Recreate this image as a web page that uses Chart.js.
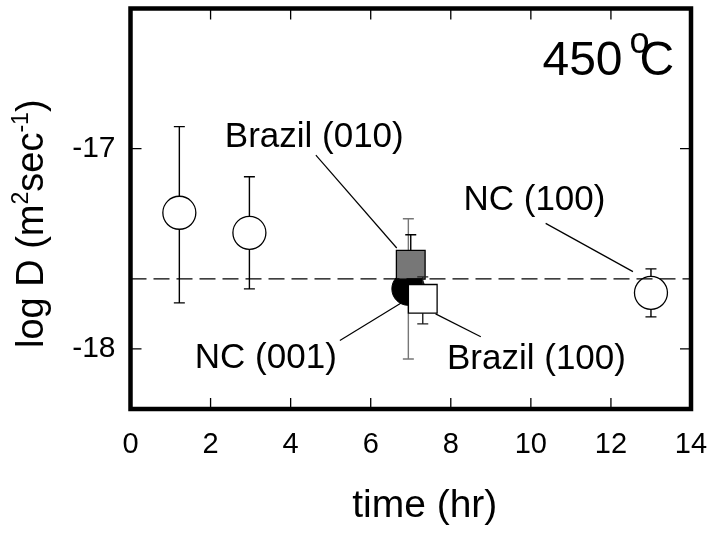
<!DOCTYPE html>
<html>
<head>
<meta charset="utf-8">
<script src="https://cdn.jsdelivr.net/npm/chart.js@4.4.1/dist/chart.umd.min.js"></script>
<style>
    html, body { margin: 0; padding: 0; background: #fff; }
</style>
</head>
<body>
<canvas id="myChart" width="712" height="533"></canvas>
<script>
// open circles (the one at 13 hr is NC (100))
var openX = [1.22, 2.97, 13.0];
var openY = [-17.32, -17.42, -17.72];
var openLo = [-17.77, -17.70, -17.84];
var openHi = [-16.89, -17.14, -17.60];

// NC (001) - black circle
var nc001X = [6.94];
var nc001Y = [-17.70];
var nc001Lo = [-18.05];
var nc001Hi = [-17.35];

// Brazil (010) - grey square
var br010X = [7.00];
var br010Y = [-17.58];
var br010Lo = [-17.73];
var br010Hi = [-17.43];

// Brazil (100) - white square
var br100X = [7.30];
var br100Y = [-17.75];
var br100Lo = [-17.875];
var br100Hi = [-17.64];

var xTicks = [0, 2, 4, 6, 8, 10, 12, 14];
var yTicks = [-18, -17];
var meanLogD = -17.65;

var FONT = "'Liberation Sans', Arial, Helvetica, sans-serif";

// labels and leader lines, in data units
var notes = [
    { text: 'Brazil (010)', x: 4.59, y: -16.99, line: [4.63, -17.032, 6.65, -17.496] },
    { text: 'NC (100)', x: 10.09, y: -17.304, line: [10.37, -17.373, 12.55, -17.614] },
    { text: 'NC (001)', x: 3.38, y: -18.095, line: [5.23, -17.958, 6.76, -17.771] },
    { text: 'Brazil (100)', x: 10.14, y: -18.102, line: [7.62, -17.825, 8.75, -17.939] }
];

function toPoints(xs, ys) {
    return xs.map(function (x, i) { return { x: x, y: ys[i] }; });
}

var decor = {
    id: 'decor',
    beforeDatasetDraw: function (chart, args) {
        var ds = chart.data.datasets[args.index];
        var ctx = chart.ctx;
        var sx = chart.scales.x, sy = chart.scales.y;
        ctx.save();
        ctx.strokeStyle = ds.errColor;
        ctx.lineWidth = 1.4;
        ds.data.forEach(function (p, i) {
            var px = sx.getPixelForValue(p.x);
            var lo = sy.getPixelForValue(ds.errLo[i]);
            var hi = sy.getPixelForValue(ds.errHi[i]);
            ctx.beginPath();
            ctx.moveTo(px, lo); ctx.lineTo(px, hi);
            ctx.moveTo(px - 5.5, lo); ctx.lineTo(px + 5.5, lo);
            ctx.moveTo(px - 5.5, hi); ctx.lineTo(px + 5.5, hi);
            ctx.stroke();
        });
        ctx.restore();
    },
    afterDatasetsDraw: function (chart) {
        var ctx = chart.ctx;
        var ca = chart.chartArea;
        var sx = chart.scales.x, sy = chart.scales.y;
        ctx.save();

        // mean line
        var my = sy.getPixelForValue(meanLogD);
        ctx.strokeStyle = '#000';
        ctx.lineWidth = 1.4;
        ctx.setLineDash([16, 7]);
        ctx.beginPath();
        ctx.moveTo(ca.left, my); ctx.lineTo(ca.right, my);
        ctx.stroke();
        ctx.setLineDash([]);

        // inward ticks on all sides
        ctx.lineWidth = 1.3;
        ctx.beginPath();
        sx.ticks.forEach(function (t) {
            var px = sx.getPixelForValue(t.value);
            if (px <= ca.left + 2 || px >= ca.right - 2) return;
            ctx.moveTo(px, ca.bottom); ctx.lineTo(px, ca.bottom - 11);
            ctx.moveTo(px, ca.top); ctx.lineTo(px, ca.top + 11);
        });
        sy.ticks.forEach(function (t) {
            var py = sy.getPixelForValue(t.value);
            ctx.moveTo(ca.left, py); ctx.lineTo(ca.left + 11, py);
            ctx.moveTo(ca.right, py); ctx.lineTo(ca.right - 11, py);
        });
        ctx.stroke();

        // frame
        ctx.lineWidth = 4.5;
        ctx.lineJoin = 'miter';
        ctx.strokeRect(ca.left, ca.top, ca.right - ca.left, ca.bottom - ca.top);

        // leader lines and labels
        ctx.lineWidth = 1.2;
        ctx.fillStyle = '#000';
        ctx.font = '35px ' + FONT;
        ctx.textAlign = 'center';
        ctx.textBaseline = 'alphabetic';
        notes.forEach(function (n) {
            ctx.beginPath();
            ctx.moveTo(sx.getPixelForValue(n.line[0]), sy.getPixelForValue(n.line[1]));
            ctx.lineTo(sx.getPixelForValue(n.line[2]), sy.getPixelForValue(n.line[3]));
            ctx.stroke();
            ctx.fillText(n.text, sx.getPixelForValue(n.x), sy.getPixelForValue(n.y));
        });

        // temperature
        ctx.textAlign = 'left';
        var tx = sx.getPixelForValue(10.29), ty = sy.getPixelForValue(-16.633);
        ctx.font = '48px ' + FONT;
        ctx.fillText('450', tx, ty);
        var w = ctx.measureText('450').width;
        ctx.font = '36px ' + FONT;
        ctx.fillText('o', tx + w + 7, ty - 22.5);
        ctx.font = '48px ' + FONT;
        ctx.fillText('C', tx + w + 17, ty);

        // x title
        ctx.textAlign = 'center';
        ctx.font = '39px ' + FONT;
        ctx.fillText('time (hr)', (ca.left + ca.right) / 2 + 14, ca.bottom + 108);

        // y title with superscripts
        var parts = [
            ['log D (m', 38, 0], ['2', 23, -15], ['sec', 38, 0], ['-1', 23, -15], [')', 38, 0]
        ];
        var total = 0;
        parts.forEach(function (p) {
            ctx.font = p[1] + 'px ' + FONT;
            p.push(ctx.measureText(p[0]).width);
            total += p[3];
        });
        ctx.translate(43, (ca.top + ca.bottom) / 2 + 15);
        ctx.rotate(-Math.PI / 2);
        ctx.textAlign = 'left';
        var cx = -total / 2;
        parts.forEach(function (p) {
            ctx.font = p[1] + 'px ' + FONT;
            ctx.fillText(p[0], cx, p[2]);
            cx += p[3];
        });
        ctx.restore();
    }
};

window.onload = function () {
    var ctx = document.getElementById('myChart').getContext('2d');
    new Chart(ctx, {
        type: 'scatter',
        data: {
            datasets: [
                {
                    label: 'Brazil (100)',
                    data: toPoints(br100X, br100Y),
                    errLo: br100Lo, errHi: br100Hi, errColor: '#222',
                    pointStyle: 'rect', pointRadius: 20.3,
                    backgroundColor: '#fff', borderColor: '#000', borderWidth: 1.3
                },
                {
                    label: 'Brazil (010)',
                    data: toPoints(br010X, br010Y),
                    errLo: br010Lo, errHi: br010Hi, errColor: '#000',
                    pointStyle: 'rect', pointRadius: 20.3,
                    backgroundColor: '#777', borderColor: '#000', borderWidth: 1.3
                },
                {
                    label: 'NC (001)',
                    data: toPoints(nc001X, nc001Y),
                    errLo: nc001Lo, errHi: nc001Hi, errColor: '#777',
                    pointStyle: 'circle', pointRadius: 16.5,
                    backgroundColor: '#000', borderColor: '#000', borderWidth: 1
                },
                {
                    label: 'open',
                    data: toPoints(openX, openY),
                    errLo: openLo, errHi: openHi, errColor: '#000',
                    pointStyle: 'circle', pointRadius: 16.5,
                    backgroundColor: '#fff', borderColor: '#000', borderWidth: 1.3
                }
            ]
        },
        options: {
            responsive: false,
            devicePixelRatio: 1,
            animation: false,
            events: [],
            layout: { autoPadding: false, padding: { left: 0, right: 21, top: 8.5, bottom: 0 } },
            plugins: { legend: { display: false }, tooltip: { enabled: false } },
            scales: {
                x: {
                    type: 'linear', min: 0, max: 14,
                    afterBuildTicks: function (s) { s.ticks = xTicks.map(function (v) { return { value: v }; }); },
                    afterFit: function (s) { s.height = 124; s.paddingLeft = 0; s.paddingRight = 0; },
                    grid: { display: false },
                    border: { display: false },
                    ticks: { font: { family: FONT, size: 29 }, color: '#000', padding: 11, maxRotation: 0, autoSkip: false }
                },
                y: {
                    type: 'linear', min: -18.3, max: -16.3,
                    afterBuildTicks: function (s) { s.ticks = yTicks.map(function (v) { return { value: v }; }); },
                    afterFit: function (s) { s.width = 130.5; s.paddingTop = 0; s.paddingBottom = 0; },
                    grid: { display: false },
                    border: { display: false },
                    ticks: { font: { family: FONT, size: 30 }, color: '#000', padding: 7,
                        callback: function (v) { return String(v); } }
                }
            }
        },
        plugins: [decor]
    });
};
</script>
</body>
</html>
